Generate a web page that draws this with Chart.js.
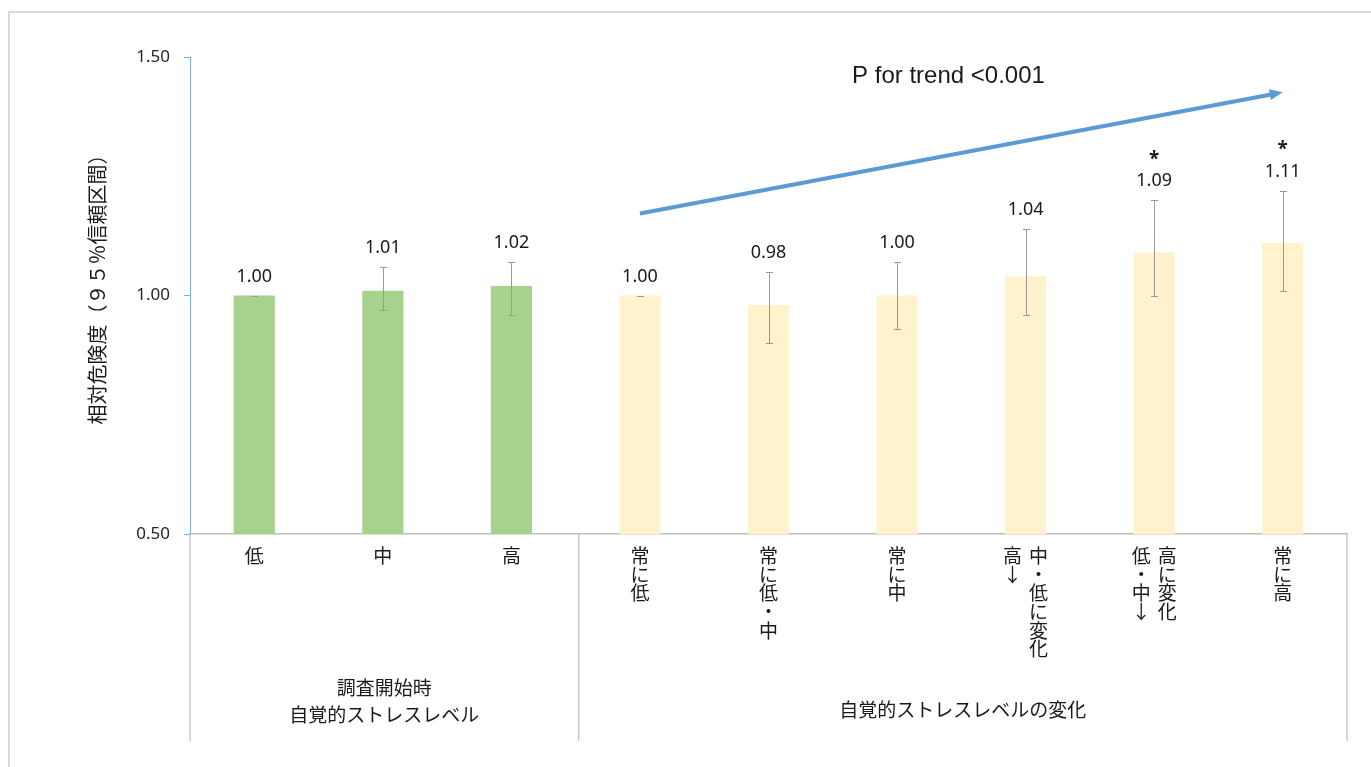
<!DOCTYPE html>
<html lang="ja">
<head>
<meta charset="utf-8">
<title>自覚的ストレスレベルと相対危険度</title>
<script src="https://cdn.jsdelivr.net/npm/chart.js@4.4.1/dist/chart.umd.min.js"></script>
<style>
html,body{margin:0;padding:0;background:#fff;overflow:hidden}
#wrap{position:relative;width:1371px;height:767px}
#frame{position:absolute;left:8px;top:11px;width:1400px;height:800px;border:2px solid #d9d9d9;box-sizing:border-box}
#chart{position:absolute;left:0;top:0}
</style>
</head>
<body>
<div id="wrap">
  <div id="frame"></div>
  <canvas id="chart" width="1371" height="767"></canvas>
</div>
<script>
// categories: each entry = columns of vertical text
const categories = [["低"],["中"],["高"],["常に低"],["常に低・中"],["常に中"],["高→","中・低に変化"],["低・中→","高に変化"],["常に高"]];
const groupNames = [["調査開始時","自覚的ストレスレベル"],["自覚的ストレスレベルの変化"]];
const groupSizes = [3,6];
const riskValues = [1.00,1.01,1.02,1.00,0.98,1.00,1.04,1.09,1.11];
const lowerCI = [1.00,0.97,0.96,1.00,0.90,0.93,0.96,1.00,1.01];
const upperCI = [1.00,1.06,1.07,1.00,1.05,1.07,1.14,1.20,1.22];
const significant = [false,false,false,false,false,false,false,true,true];
const yTicks = [0.50,1.00,1.50];
const yTitle = "相対危険度（９５％信頼区間）";
const trendText = "P for trend <0.001";
const trendFrom = [3,1.172];   // category index, value
const trendTo = [8,1.426];
const trendTextAt = [5.4,1.46];

const JP = '"Noto Sans CJK JP", "Noto Sans", sans-serif';
const NUM = '"Noto Sans", "Noto Sans CJK JP", sans-serif';
const groupColors = ["#a9d18e","#fff2cc"];
const barColors = [];
groupSizes.forEach((n,g)=>{ for(let i=0;i<n;i++) barColors.push(groupColors[g]); });

const overlay = {
  id:"overlay",
  afterDatasetsDraw(chart){
    const {ctx, chartArea:a, scales:{x,y}} = chart;
    ctx.save();
    // error bars
    ctx.strokeStyle="#999999"; ctx.lineWidth=1;
    riskValues.forEach((v,i)=>{
      const cx=Math.round(x.getPixelForValue(i))+0.5;
      const top=Math.round(y.getPixelForValue(upperCI[i]))+0.5, bot=Math.round(y.getPixelForValue(lowerCI[i]))+0.5;
      ctx.beginPath();
      ctx.moveTo(cx,top); ctx.lineTo(cx,bot);
      ctx.moveTo(cx-3.5,top); ctx.lineTo(cx+3.5,top);
      ctx.moveTo(cx-3.5,bot); ctx.lineTo(cx+3.5,bot);
      ctx.stroke();
    });
    // value labels and asterisks
    ctx.fillStyle="#1a1a1a"; ctx.textAlign="center"; ctx.textBaseline="middle";
    riskValues.forEach((v,i)=>{
      const cx=x.getPixelForValue(i);
      const top=Math.min(y.getPixelForValue(upperCI[i]),y.getPixelForValue(v));
      const ly=top-19;
      ctx.font="18px "+NUM;
      ctx.fillText(v.toFixed(2),cx,ly);
      if(significant[i]){ ctx.font="bold 19px "+NUM; ctx.fillText("*",cx,ly-22); }
    });
    // category labels, vertical
    ctx.font="19px "+JP;
    categories.forEach((cols,i)=>{
      const cx=x.getPixelForValue(i);
      const x0=cx-(cols.length-1)*13;
      cols.forEach((col,c)=>{
        [...col].forEach((ch,k)=>{
          ctx.fillText(ch==="→"?"↓":ch, x0+c*26, a.bottom+22+k*18.6);
        });
      });
    });
    // separators + group labels
    ctx.strokeStyle="#c8c8c8"; ctx.lineWidth=1.5;
    let start=0;
    const edges=[a.left];
    groupSizes.forEach(n=>{ start+=n; edges.push(start<riskValues.length?(x.getPixelForValue(start-1)+x.getPixelForValue(start))/2+3:a.right); });
    edges.forEach(ex=>{ ctx.beginPath(); ctx.moveTo(ex,a.bottom); ctx.lineTo(ex,a.bottom+207); ctx.stroke(); });
    ctx.font="19px "+JP;
    groupNames.forEach((lines,g)=>{
      const gx=(edges[g]+edges[g+1])/2;
      const baseY = lines.length>1 ? a.bottom+154 : a.bottom+176;
      lines.forEach((t,k)=>ctx.fillText(t,gx,baseY+k*27));
    });
    // y axis title
    ctx.save();
    ctx.translate(97,(a.top+a.bottom)/2-11);
    ctx.rotate(-Math.PI/2);
    ctx.font="20px "+JP;
    ctx.fillText(yTitle,0,0);
    ctx.restore();
    // trend arrow
    const fx=x.getPixelForValue(trendFrom[0]), fy=y.getPixelForValue(trendFrom[1]);
    const tx=x.getPixelForValue(trendTo[0]), ty=y.getPixelForValue(trendTo[1]);
    const ang=Math.atan2(ty-fy,tx-fx), head=13;
    ctx.strokeStyle="#5b9bd5"; ctx.fillStyle="#5b9bd5"; ctx.lineWidth=4; ctx.lineCap="butt";
    ctx.beginPath(); ctx.moveTo(fx,fy); ctx.lineTo(tx-Math.cos(ang)*head*0.8,ty-Math.sin(ang)*head*0.8); ctx.stroke();
    ctx.beginPath();
    ctx.moveTo(tx,ty);
    ctx.lineTo(tx-head*Math.cos(ang)+5.5*Math.sin(ang), ty-head*Math.sin(ang)-5.5*Math.cos(ang));
    ctx.lineTo(tx-head*Math.cos(ang)-5.5*Math.sin(ang), ty-head*Math.sin(ang)+5.5*Math.cos(ang));
    ctx.closePath(); ctx.fill();
    ctx.fillStyle="#1a1a1a";
    ctx.font='24px "Liberation Sans Narrow", "Liberation Sans", sans-serif';
    ctx.fillText(trendText,x.getPixelForValue(trendTextAt[0]),y.getPixelForValue(trendTextAt[1]));
    ctx.restore();
  }
};

new Chart(document.getElementById("chart"),{
  type:"bar",
  data:{
    labels:categories.map(c=>c.join("")),
    datasets:[{data:riskValues,backgroundColor:barColors,borderWidth:0,barPercentage:0.32,categoryPercentage:1}]
  },
  options:{
    responsive:false,
    animation:false,
    layout:{padding:{left:10,right:24,top:57,bottom:25}},
    plugins:{legend:{display:false},tooltip:{enabled:false}},
    scales:{
      x:{
        grid:{display:false},
        border:{display:true,color:"#bfbfbf",width:1.5},
        ticks:{display:false},
        afterFit:s=>{s.height=208;}
      },
      y:{
        min:0.5,max:1.5,
        afterBuildTicks:s=>{s.ticks=yTicks.map(v=>({value:v}));},
        ticks:{callback:v=>Number(v).toFixed(2),font:{family:NUM,size:17},color:"#262626",padding:14},
        grid:{drawOnChartArea:false,drawTicks:true,tickLength:6,color:"#7fade0"},
        border:{color:"#7fade0",width:1},
        afterFit:s=>{s.width=180;}
      }
    }
  },
  plugins:[overlay]
});
</script>
</body>
</html>
